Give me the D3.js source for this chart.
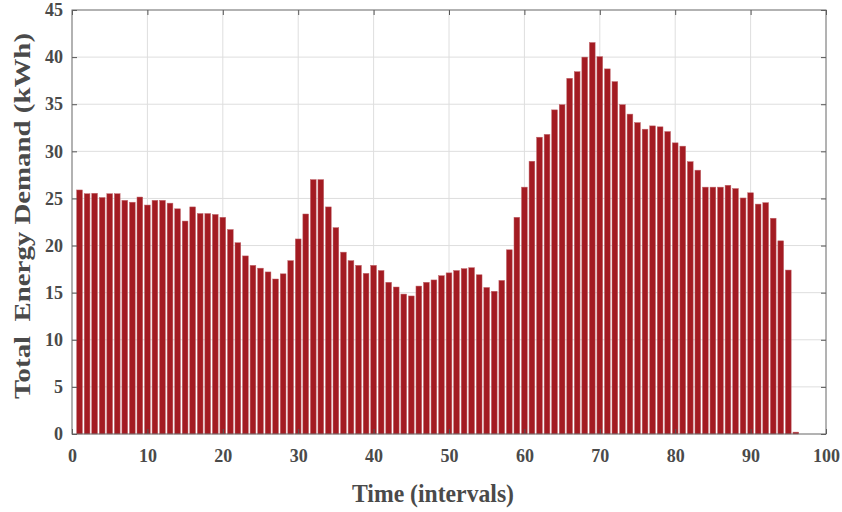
<!DOCTYPE html>
<html>
<head>
<meta charset="utf-8">
<script src="https://cdn.jsdelivr.net/npm/d3@7"></script>
<style>
  body { margin: 0; background: #fff; }
  svg text { font-family: "Liberation Serif", "Times New Roman", serif; font-weight: bold; fill: #4a4a4a; }
</style>
</head>
<body>
<div id="chart"></div>
<script>
// demand per interval (kWh), intervals 1..96
var intervals = d3.range(1, 97);
var demand = [
  25.9, 25.5, 25.55, 25.1, 25.5, 25.5, 24.8, 24.6, 25.15, 24.3,
  24.8, 24.8, 24.5, 23.9, 22.6, 24.1, 23.4, 23.4, 23.3, 23.0,
  21.7, 20.3, 18.9, 17.9, 17.6, 17.2, 16.45, 17.0, 18.4, 20.7,
  23.35, 27.0, 27.0, 24.1, 21.9, 19.3, 18.4, 17.9, 17.05, 17.9,
  17.35, 16.1, 15.6, 14.85, 14.65, 15.7, 16.1, 16.35, 16.8, 17.1,
  17.35, 17.55, 17.65, 16.9, 15.55, 15.15, 16.3, 19.55, 23.0, 26.2,
  28.95, 31.5, 31.8, 34.4, 34.95, 37.75, 38.45, 40.0, 41.55, 40.05,
  38.75, 37.4, 34.95, 33.95, 33.05, 32.35, 32.7, 32.6, 32.1, 30.9,
  30.55, 28.9, 28.0, 26.2, 26.2, 26.2, 26.4, 26.05, 25.05, 25.6,
  24.4, 24.55, 22.9, 20.5, 17.4, 0.2
];
var xTicks = d3.range(0, 101, 10);
var yTicks = d3.range(0, 46, 5);

var W = 842, H = 512;
var margin = {top: 10, right: 16, bottom: 78, left: 72},
    width = W - margin.left - margin.right,
    height = H - margin.top - margin.bottom;

var svg = d3.select("#chart").append("svg")
    .attr("width", W)
    .attr("height", H);

var g = svg.append("g")
    .attr("transform", "translate(" + margin.left + "," + margin.top + ")");

var x = d3.scaleLinear().domain([0, 100]).range([0, width]);
var y = d3.scaleLinear().domain([0, 45]).range([height, 0]);

// grid
g.append("g").selectAll("line.gx")
    .data(xTicks.slice(1, -1))
    .enter().append("line")
    .attr("x1", function(d) { return x(d); })
    .attr("x2", function(d) { return x(d); })
    .attr("y1", 0).attr("y2", height)
    .attr("stroke", "#dedede").attr("stroke-width", 1);
g.append("g").selectAll("line.gy")
    .data(yTicks.slice(1, -1))
    .enter().append("line")
    .attr("y1", function(d) { return y(d); })
    .attr("y2", function(d) { return y(d); })
    .attr("x1", 0).attr("x2", width)
    .attr("stroke", "#dedede").attr("stroke-width", 1);

// bars
var step = x(1) - x(0);
var bw = step * 0.76;
g.append("g").selectAll("rect")
    .data(intervals)
    .enter().append("rect")
    .attr("x", function(d) { return x(d) - bw / 2; })
    .attr("y", function(d, i) { return y(demand[i]); })
    .attr("width", bw)
    .attr("height", function(d, i) { return height - y(demand[i]); })
    .attr("fill", "#a31b22")
    .attr("stroke", "#c0646a")
    .attr("stroke-width", 0.5);

// axes (ticks inside, box on)
function styleAxis(sel) {
    sel.select(".domain").remove();
    sel.selectAll(".tick line").attr("stroke", "#555");
    sel.selectAll(".tick text")
        .style("font-size", "18px")
        .style("fill", "#4a4a4a");
}
var xAxis = g.append("g")
    .attr("transform", "translate(0," + height + ")")
    .call(d3.axisBottom(x).tickValues(xTicks).tickSize(-5).tickPadding(14));
styleAxis(xAxis);
xAxis.selectAll(".tick text").attr("y", 28).attr("dy", 0);
var xTop = g.append("g")
    .call(d3.axisTop(x).tickValues(xTicks).tickSize(-5).tickFormat(""));
styleAxis(xTop);
var yAxis = g.append("g")
    .call(d3.axisLeft(y).tickValues(yTicks).tickSize(-5).tickPadding(9));
styleAxis(yAxis);
var yRight = g.append("g")
    .attr("transform", "translate(" + width + ",0)")
    .call(d3.axisRight(y).tickValues(yTicks).tickSize(-5).tickFormat(""));
styleAxis(yRight);

g.append("rect")
    .attr("width", width).attr("height", height)
    .attr("fill", "none")
    .attr("stroke", "#666")
    .attr("stroke-width", 1);

// labels
svg.append("text")
    .attr("x", 433)
    .attr("y", 502)
    .attr("text-anchor", "middle")
    .attr("textLength", 162)
    .attr("lengthAdjust", "spacingAndGlyphs")
    .style("font-size", "25px")
    .text("Time (intervals)");

svg.append("text")
    .attr("transform", "translate(30,216) rotate(-90)")
    .attr("text-anchor", "middle")
    .attr("textLength", 366)
    .attr("lengthAdjust", "spacingAndGlyphs")
    .style("font-size", "23px")
    .style("white-space", "pre")
    .text("Total  Energy Demand (kWh)");
</script>
</body>
</html>
